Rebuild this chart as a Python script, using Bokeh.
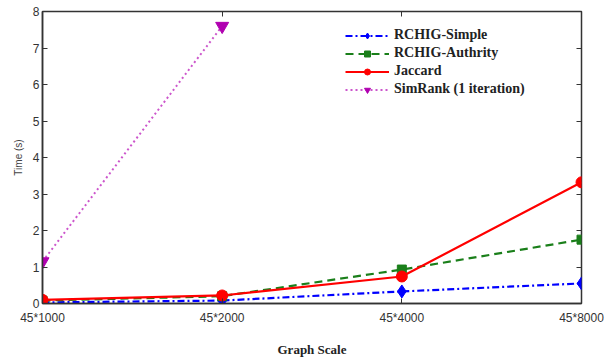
from bokeh.plotting import figure
from bokeh.models import Legend, LegendItem, LinearAxis, FixedTicker, Range1d
from bokeh.embed import file_html
from bokeh.resources import INLINE

categories = ["45*1000", "45*2000", "45*4000", "45*8000"]
x_pos = [0, 1, 2, 3]
rchig_simple = [0.03, 0.08, 0.33, 0.55]
rchig_authrity = [0.08, 0.20, 0.93, 1.75]
jaccard = [0.10, 0.22, 0.74, 3.32]
simrank_x = [0, 1]
simrank = [1.15, 7.6]
y_ticks = [0, 1, 2, 3, 4, 5, 6, 7, 8]

p = figure(frame_width=539, frame_height=292, output_backend="svg",
           toolbar_location=None, x_range=Range1d(0, 3), y_range=Range1d(0, 8),
           min_border_left=42, min_border_right=28, min_border_top=11, min_border_bottom=52)
p.xgrid.visible = False
p.ygrid.visible = False
p.outline_line_color = "#333333"
p.outline_line_width = 1.5
p.background_fill_color = "white"

lab_font = "Liberation Sans"
for ax in (p.xaxis[0], p.yaxis[0]):
    ax.major_tick_in = 5
    ax.major_tick_out = 0
    ax.minor_tick_in = 0
    ax.minor_tick_out = 0
    ax.axis_line_color = "#333333"
    ax.axis_line_width = 1.5
    ax.major_tick_line_color = "#333333"
    ax.major_label_text_font = lab_font
    ax.major_label_text_font_size = "12px"
    ax.major_label_text_color = "#333333"

p.xaxis[0].major_label_standoff = 7
p.yaxis[0].major_label_standoff = 3
p.xaxis[0].ticker = FixedTicker(ticks=x_pos)
p.xaxis[0].major_label_overrides = {i: c for i, c in zip(x_pos, categories)}
p.yaxis[0].ticker = FixedTicker(ticks=y_ticks)
p.xaxis[0].axis_label = "Graph Scale"
p.xaxis[0].axis_label_text_font = "Liberation Serif"
p.xaxis[0].axis_label_text_font_style = "bold"
p.xaxis[0].axis_label_text_font_size = "13px"
p.xaxis[0].axis_label_standoff = 14
p.xaxis[0].axis_label_text_color = "#222222"
p.yaxis[0].axis_label = "Time (s)"
p.yaxis[0].axis_label_text_font = lab_font
p.yaxis[0].axis_label_text_font_style = "normal"
p.yaxis[0].axis_label_text_font_size = "10px"
p.yaxis[0].axis_label_text_color = "#444444"
p.yaxis[0].axis_label_standoff = 6

top = LinearAxis(ticker=FixedTicker(ticks=x_pos),
                 major_label_overrides={i: "" for i in x_pos},
                 major_tick_in=5, major_tick_out=0, minor_tick_in=0, minor_tick_out=0,
                 axis_line_color=None, major_tick_line_color="#333333")
right = LinearAxis(ticker=FixedTicker(ticks=y_ticks),
                   major_label_overrides={i: "" for i in y_ticks},
                   major_tick_in=5, major_tick_out=0, minor_tick_in=0, minor_tick_out=0,
                   axis_line_color=None, major_tick_line_color="#333333")
p.add_layout(top, "above")
p.add_layout(right, "right")

items = []
l1 = p.line(x_pos, rchig_simple, line_color="#0000ff", line_width=2.2, line_dash="7 3 2 3")
s1 = p.scatter(x_pos, rchig_simple, marker="diamond", size=13, color="#0000ff")
items.append(LegendItem(label="RCHIG-Simple", renderers=[l1, s1]))
l2 = p.line(x_pos, rchig_authrity, line_color="#1a7f1a", line_width=2.2, line_dash="8 5")
s2 = p.scatter(x_pos, rchig_authrity, marker="square", size=9, color="#1a7f1a")
items.append(LegendItem(label="RCHIG-Authrity", renderers=[l2, s2]))
l3 = p.line(x_pos, jaccard, line_color="#ff0000", line_width=2.2)
s3 = p.scatter(x_pos, jaccard, marker="circle", size=11, color="#ff0000")
items.append(LegendItem(label="Jaccard", renderers=[l3, s3]))
l4 = p.line(simrank_x, simrank, line_color="#cc55cc", line_width=2, line_dash="2 3")
s4 = p.scatter(simrank_x, simrank, marker="inverted_triangle", size=13, color="#b000b0")
items.append(LegendItem(label="SimRank (1 iteration)", renderers=[l4, s4]))

legend = Legend(items=items, location=(303, 206), border_line_color=None,
                background_fill_alpha=0, label_text_font="Liberation Serif",
                label_text_font_style="bold", label_text_font_size="14px",
                label_text_color="#222222", glyph_width=44, glyph_height=15,
                spacing=2, padding=4, label_standoff=5, margin=0)
p.add_layout(legend, "center")

open("out.html", "w").write(file_html(p, INLINE))
